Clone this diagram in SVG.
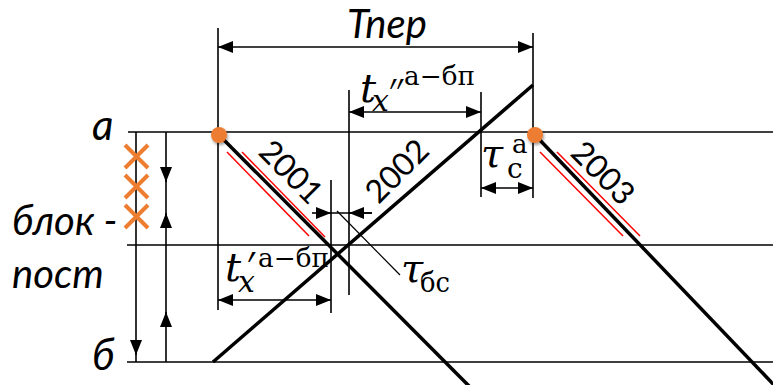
<svg xmlns="http://www.w3.org/2000/svg" width="773" height="385" viewBox="0 0 773 385">
<style>
.ln{stroke:#000;stroke-width:1.6;fill:none}
.tr{stroke:#000;stroke-width:3.5;fill:none}
.rd{stroke:#ff0000;stroke-width:1.5;fill:none}
.cr{stroke:#ED7D31;stroke-width:4;fill:none}
.lab{font-family:Lato,"Open Sans",sans-serif;font-style:italic;fill:#000}
.num{font-family:Lato,"Open Sans",sans-serif;fill:#000;font-size:32px}
.m{font-family:"DejaVu Serif","Liberation Serif",serif;font-style:italic;fill:#000}
.u{font-family:"DejaVu Serif","Liberation Serif",serif;fill:#000}
</style>
<defs>
<marker id="ah" markerUnits="userSpaceOnUse" markerWidth="15" markerHeight="12" refX="15" refY="6" orient="auto-start-reverse">
<path d="M0,0 L15,6 L0,12 z" fill="#000"/>
</marker>
<filter id="sh" x="-50%" y="-50%" width="200%" height="200%">
<feDropShadow dx="1" dy="2" stdDeviation="1.5" flood-color="#000" flood-opacity="0.4"/>
</filter>
</defs>

<g id="stations">
<line class="ln" x1="128" y1="132" x2="773" y2="132"/>
<line class="ln" x1="127" y1="245" x2="773" y2="245"/>
<line class="ln" x1="127" y1="362" x2="773" y2="362"/>
<text class="lab" x="92" y="140" font-size="42">а</text>
<text class="lab" x="12" y="235" font-size="40">блок -</text>
<text class="lab" x="12" y="288" font-size="40">пост</text>
<text class="lab" x="92" y="370" font-size="42">б</text>
</g>

<g id="blocks">
<line class="ln" x1="136" y1="132" x2="136" y2="362"/>
<line class="ln" x1="166" y1="132" x2="166" y2="362"/>
<line class="ln" x1="136" y1="340" x2="136" y2="355" marker-end="url(#ah)"/>
<line class="ln" x1="166" y1="168" x2="166" y2="182" marker-end="url(#ah)"/>
<line class="ln" x1="166" y1="227" x2="166" y2="213" marker-end="url(#ah)"/>
<line class="ln" x1="166" y1="326" x2="166" y2="312" marker-end="url(#ah)"/>
<path class="cr" d="M125,145 L148,168 M148,145 L125,168"/>
<path class="cr" d="M125,175 L148,198 M148,175 L125,198"/>
<path class="cr" d="M125,205 L148,228 M148,205 L125,228"/>
</g>

<g id="connectors">
<line class="ln" x1="218" y1="28" x2="218" y2="310"/>
<line class="ln" x1="533" y1="33" x2="533" y2="198"/>
<line class="ln" x1="218" y1="47" x2="533" y2="47" marker-start="url(#ah)" marker-end="url(#ah)"/>
<line class="ln" x1="349" y1="90" x2="349" y2="295"/>
<line class="ln" x1="481" y1="92" x2="481" y2="197"/>
<line class="ln" x1="349" y1="112" x2="481" y2="112" marker-start="url(#ah)" marker-end="url(#ah)"/>
<line class="ln" x1="481" y1="188" x2="533" y2="188" marker-start="url(#ah)" marker-end="url(#ah)"/>
<line class="ln" x1="331" y1="180" x2="331" y2="313"/>
<line class="ln" x1="218" y1="300" x2="331" y2="300" marker-start="url(#ah)" marker-end="url(#ah)"/>
<line class="ln" x1="312" y1="213" x2="331" y2="213" marker-end="url(#ah)"/>
<line class="ln" x1="331" y1="213" x2="372" y2="213"/>
<line class="ln" x1="372" y1="213" x2="349" y2="213" marker-end="url(#ah)"/>
<line stroke="#000" stroke-width="1.2" x1="337" y1="211" x2="400" y2="275"/>
</g>

<g id="train2001">
<line class="rd" x1="227" y1="152" x2="309" y2="236"/>
<line class="rd" x1="242" y1="152" x2="325" y2="237"/>
<line class="tr" x1="219" y1="135" x2="469" y2="386"/>
<text class="num" transform="translate(292,171) rotate(45)" text-anchor="middle" dominant-baseline="central">2001</text>
</g>

<g id="train2002">
<line class="tr" x1="213" y1="362" x2="533" y2="85"/>
<text class="num" transform="translate(396,170) rotate(-45)" text-anchor="middle" dominant-baseline="central">2002</text>
</g>

<g id="train2003">
<line class="rd" x1="540" y1="152" x2="623" y2="236"/>
<line class="rd" x1="557" y1="152" x2="640" y2="236"/>
<line class="tr" x1="535" y1="135" x2="775" y2="386"/>
<text class="num" transform="translate(604,172) rotate(45)" text-anchor="middle" dominant-baseline="central">2003</text>
</g>

<g id="dots">
<circle cx="219" cy="135" r="8" fill="#ED7D31" filter="url(#sh)"/>
<circle cx="535" cy="135" r="8" fill="#ED7D31" filter="url(#sh)"/>
</g>

<g id="labels">
<text class="lab" x="347" y="38" font-size="40">Тпер</text>
<text class="m" x="360" y="102" font-size="40">t</text>
<text class="m" x="372" y="111" font-size="30">x</text>
<text class="m" x="390" y="120" font-size="56" textLength="14" lengthAdjust="spacingAndGlyphs">′′</text>
<text class="u" x="404" y="85" font-size="26" textLength="71" lengthAdjust="spacingAndGlyphs">а−бп</text>
<text class="m" x="225" y="281" font-size="40">t</text>
<text class="m" x="238" y="292" font-size="30">x</text>
<text class="m" x="248" y="293" font-size="56" textLength="8" lengthAdjust="spacingAndGlyphs">′</text>
<text class="u" x="258" y="267" font-size="26" textLength="71" lengthAdjust="spacingAndGlyphs">а−бп</text>
<text class="m" x="481" y="167" font-size="40">τ</text>
<text class="u" x="507" y="178" font-size="28">с</text>
<text class="u" x="512" y="153" font-size="26">а</text>
<text class="m" x="401" y="282" font-size="40">τ</text>
<text class="u" x="420" y="292" font-size="28" textLength="30" lengthAdjust="spacingAndGlyphs">бс</text>
</g>
</svg>
